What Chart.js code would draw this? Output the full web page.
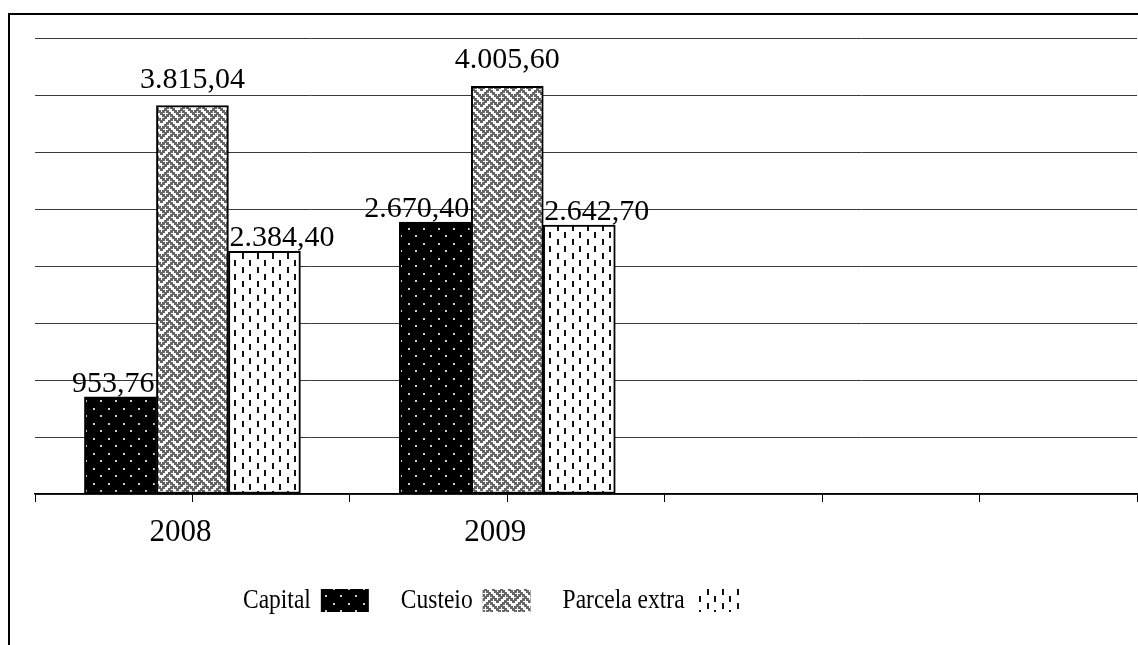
<!DOCTYPE html>
<html>
<head>
<meta charset="utf-8">
<script src="https://cdn.jsdelivr.net/npm/chart.js@4/dist/chart.umd.min.js"></script>
<style>
  html, body { margin: 0; padding: 0; background: #fff; overflow: hidden; }
  #wrap { width: 1138px; height: 645px; position: relative; }
</style>
</head>
<body>
<div id="wrap"><canvas id="chart" width="1138" height="645"></canvas></div>
<script>
// Recursos por ano (R$)
const years = ['2008', '2009'];
const seriesNames = ['Capital', 'Custeio', 'Parcela extra'];
const capital = [953.76, 2670.40];
const custeio = [3815.04, 4005.60];
const parcelaExtra = [2384.40, 2642.70];

const yMax = 4480;
const yStep = 560;
const serif = '"Liberation Serif", "Times New Roman", serif';

const canvas = document.getElementById('chart');
const ctx = canvas.getContext('2d');

// --- fill patterns ---------------------------------------------------------
function makeTile(w, h, draw) {
  const c = document.createElement('canvas');
  c.width = w; c.height = h;
  draw(c.getContext('2d'));
  return ctx.createPattern(c, 'repeat');
}

// black with small light dots
const dotsFill = makeTile(15, 15, g => {
  g.fillStyle = '#000';
  g.fillRect(0, 0, 15, 15);
  g.fillStyle = '#cfcfcf';
  g.fillRect(3, 3, 2, 2);
  g.fillRect(10, 10, 2, 2);
});

// gray weave, 8x8 bitmap drawn at 2px per bit (blocks overlap a little for thicker strokes)
const weaveBits = [0x88, 0x54, 0x22, 0x45, 0x88, 0x14, 0x22, 0x51];
const weaveFill = makeTile(16, 16, g => {
  g.fillStyle = '#fff';
  g.fillRect(0, 0, 16, 16);
  g.fillStyle = '#666';
  weaveBits.forEach((row, r) => {
    for (let b = 0; b < 8; b++) {
      if (!(row & (0x80 >> b))) continue;
      // draw with wrap-around so strokes stay continuous across tiles
      for (const dx of [0, -16]) {
        for (const dy of [0, -16]) g.fillRect(b * 2 + dx, r * 2 + dy, 3, 3);
      }
    }
  });
});

// white with staggered vertical dashes
const dashFill = makeTile(15, 14, g => {
  g.fillStyle = '#fff';
  g.fillRect(0, 0, 15, 14);
  g.fillStyle = '#111';
  g.fillRect(2, 1, 2, 6);
  g.fillRect(9, 8, 2, 6);
});

const fills = [dotsFill, weaveFill, dashFill];

// each year sits on every second tick of the x axis
const toPoints = values => values.map((v, i) => ({ x: 2 * i + 1, y: v }));

function formatBR(v) {
  const [int, dec] = v.toFixed(2).split('.');
  return int.replace(/\B(?=(\d{3})+(?!\d))/g, '.') + ',' + dec;
}

// --- plugins ---------------------------------------------------------------
const frame = {
  id: 'frame',
  beforeDraw(chart) {
    const c = chart.ctx;
    c.save();
    c.fillStyle = '#fff';
    c.fillRect(0, 0, chart.width, chart.height);
    c.strokeStyle = '#000';
    c.lineWidth = 2;
    c.strokeRect(9, 14, chart.width + 50, chart.height + 50);
    c.restore();
  }
};

// value above each bar; pushed sideways when a taller neighbour is in the way
const valueLabels = {
  id: 'valueLabels',
  afterDatasetsDraw(chart) {
    const c = chart.ctx;
    c.save();
    c.font = '30px ' + serif;
    c.fillStyle = '#000';
    c.textAlign = 'left';
    c.textBaseline = 'alphabetic';
    const metas = chart.data.datasets.map((d, i) => chart.getDatasetMeta(i));
    metas.forEach((meta, di) => {
      meta.data.forEach((bar, i) => {
        const text = formatBR(chart.data.datasets[di].data[i].y);
        const w = c.measureText(text).width;
        let left = bar.x - w / 2;
        let shifted = false;
        const prev = metas[di - 1] && metas[di - 1].data[i];
        const next = metas[di + 1] && metas[di + 1].data[i];
        if (next && next.y < bar.y && left + w > next.x - next.width / 2) {
          left = next.x - next.width / 2 - w - 2;
          shifted = true;
        }
        if (prev && prev.y < bar.y && left < prev.x + prev.width / 2) {
          left = prev.x + prev.width / 2 + 1;
          shifted = true;
        }
        c.fillText(text, left, bar.y - (shifted ? 5 : 18));
      });
    });
    c.restore();
  }
};

// legend with the name first and the swatch after it
const patternLegend = {
  id: 'patternLegend',
  afterDraw(chart) {
    const c = chart.ctx;
    const squeeze = 0.87;
    let x = 243;
    const baseline = 608, boxTop = 589, boxW = 48, boxH = 23;
    c.save();
    c.font = '27px ' + serif;
    c.fillStyle = '#000';
    c.textBaseline = 'alphabetic';
    chart.data.datasets.forEach(ds => {
      const w = c.measureText(ds.label).width * squeeze;
      c.save();
      c.translate(x, baseline);
      c.scale(squeeze, 1);
      c.fillStyle = '#000';
      c.fillText(ds.label, 0, 0);
      c.restore();
      x += w + 10;
      c.fillStyle = ds.backgroundColor;
      c.fillRect(x, boxTop, boxW, boxH);
      x += boxW + 32;
    });
    c.restore();
  }
};

// --- chart -----------------------------------------------------------------
new Chart(ctx, {
  type: 'bar',
  data: {
    datasets: [
      { label: seriesNames[0], data: toPoints(capital), backgroundColor: fills[0] },
      { label: seriesNames[1], data: toPoints(custeio), backgroundColor: fills[1] },
      { label: seriesNames[2], data: toPoints(parcelaExtra), backgroundColor: fills[2] }
    ]
  },
  options: {
    responsive: false,
    animation: false,
    layout: { padding: { left: 35, right: 1, top: 38, bottom: 81 } },
    datasets: {
      bar: { barThickness: 72, borderColor: '#000', borderWidth: 2, borderSkipped: false }
    },
    scales: {
      x: {
        type: 'linear',
        offset: false,
        min: 0,
        max: 7,
        ticks: {
          stepSize: 1,
          autoSkip: false,
          maxRotation: 0,
          padding: 0,
          labelOffset: -12,
          color: '#000',
          font: { family: serif, size: 31, lineHeight: 2 },
          callback: v => (v % 2 === 1 && years[(v - 1) / 2]) || ''
        },
        grid: { offset: false, drawOnChartArea: false, tickLength: 8, color: '#000', lineWidth: 1 },
        border: { color: '#000', width: 1.5 }
      },
      y: {
        min: 0,
        max: yMax,
        ticks: { display: false, stepSize: yStep },
        grid: { drawTicks: false, color: '#3a3a3a', lineWidth: 1 },
        border: { display: false }
      }
    },
    plugins: { legend: { display: false }, tooltip: { enabled: false } }
  },
  plugins: [frame, valueLabels, patternLegend]
});
</script>
</body>
</html>
